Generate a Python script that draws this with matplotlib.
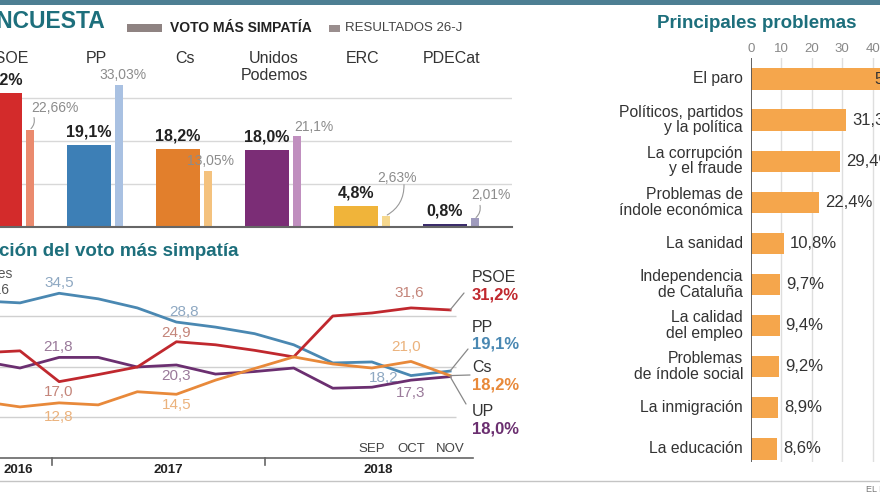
import matplotlib
matplotlib.use("Agg")
import matplotlib.pyplot as plt
from matplotlib.patches import Rectangle
from matplotlib import transforms

plt.rcParams['font.family'] = ['Liberation Sans', 'DejaVu Sans']

# ---------------- data ----------------
parties = ["PSOE", "PP", "Cs", "Unidos\nPodemos", "ERC", "PDECat"]
voto_simpatia = [31.2, 19.1, 18.2, 18.0, 4.8, 0.8]
resultados_26j = [22.66, 33.03, 13.05, 21.1, 2.63, 2.01]

series_names = ["PSOE", "PP", "Cs", "UP"]
psoe = [22.7, 23.1, 17.0, 18.4, 19.9, 24.9, 24.3, 23.2, 21.9, 30.0, 30.6, 31.6, 31.2]
pp = [33.0, 32.6, 34.5, 33.4, 31.6, 28.8, 27.8, 26.5, 24.3, 20.7, 20.9, 18.2, 19.1]
cs = [13.1, 12.0, 12.8, 12.4, 15.0, 14.5, 17.3, 19.6, 21.9, 20.5, 19.7, 21.0, 18.2]
up = [21.1, 19.7, 21.8, 21.8, 19.9, 20.3, 18.5, 19.0, 19.7, 15.7, 15.9, 17.3, 18.0]
month_labels = ["SEP", "OCT", "NOV"]
year_labels = ["2016", "2017", "2018"]

problems = ["El paro", "Políticos, partidos\ny la política", "La corrupción\ny el fraude",
            "Problemas de\níndole económica", "La sanidad", "Independencia\nde Cataluña",
            "La calidad\ndel empleo", "Problemas\nde índole social", "La inmigración",
            "La educación"]
problem_values = [57.6, 31.3, 29.4, 22.4, 10.8, 9.7, 9.4, 9.2, 8.9, 8.6]
problem_ticks = [0, 10, 20, 30, 40, 50]

# ---------------- style ----------------
TEAL = '#1d6f7c'
main_colors = ['#d32b2b', '#3d7fb6', '#e27f2c', '#7b2d76', '#f0b43a', '#3b2c6b']
light_colors = ['#ea8a6e', '#a9c1e2', '#f4c27e', '#c08fbf', '#f6d88e', '#9f9bbd']
line_colors = {'PSOE': '#c0282e', 'PP': '#4a88b2', 'Cs': '#e8893a', 'UP': '#6b2f70'}
note_colors = {'PSOE': '#c4857a', 'PP': '#8ea8c2', 'Cs': '#ebb27c', 'UP': '#9a7a9a'}

W, H = 880, 495
fig = plt.figure(figsize=(W / 100, H / 100), dpi=100)
fig.patch.set_facecolor('white')


def px_axes(x0, y0, x1, y1):
    ax = fig.add_axes([x0 / W, 1 - y1 / H, (x1 - x0) / W, (y1 - y0) / H])
    ax.patch.set_visible(False)
    for s in ax.spines.values():
        s.set_visible(False)
    ax.set_xticks([])
    ax.set_yticks([])
    return ax


# overlay in pixel coordinates
ov = fig.add_axes([0, 0, 1, 1])
ov.set_xlim(0, W)
ov.set_ylim(H, 0)
ov.axis('off')
ov.patch.set_visible(False)
ov.set_zorder(10)

PT = 0.72  # points per pixel

# top stripe + header
ov.add_patch(Rectangle((0, 0), W, 5, color='#4d7f93', lw=0))
ov.text(105, 22, "ENCUESTA", ha='right', va='center', fontsize=16.5, fontweight='bold', color=TEAL)
ov.add_patch(Rectangle((127, 24), 35, 7.5, color='#8f8382', lw=0))
ov.text(170, 28, "VOTO MÁS SIMPATÍA", ha='left', va='center', fontsize=10, fontweight='bold', color='#222')
ov.add_patch(Rectangle((329, 25), 11, 6.5, color='#9a8e8e', lw=0))
ov.text(345, 28, "RESULTADOS 26-J", ha='left', va='center', fontsize=9.5, color='#444')

# ---------------- bar chart ----------------
GP = 89.0
PXU = 4.3
ax_b = px_axes(-45, 60, 512, 227)
ax_b.set_xlim(-45 / GP, 512 / GP)
ax_b.set_ylim(0, 167 / PXU)
for g in (10, 20, 30):
    ax_b.axhline(g, color='#d8d8d8', lw=1, zorder=0)
ax_b.axhline(0, color='#666', lw=1.5, zorder=3, clip_on=False)

xs = list(range(len(parties)))
main_w = 44 / GP
light_w = 8 / GP
light_off = 30 / GP
ax_b.bar(xs, voto_simpatia, width=main_w, color=main_colors, zorder=2)
lx = [x + light_off for x in xs]
ax_b.bar(lx, resultados_26j, width=light_w, color=light_colors, zorder=2)

btr = transforms.blended_transform_factory(ax_b.transData, ov.transData)
for i, name in enumerate(parties):
    ax_b.text(i + 7 / GP, 51, name, transform=btr, ha='center', va='top',
              fontsize=11.5, color='#333', linespacing=1.2)
    ax_b.annotate(f"{voto_simpatia[i]:.1f}".replace('.', ',') + '%',
                  xy=(i, voto_simpatia[i]), xytext=(0, 4), textcoords='offset points',
                  ha='center', va='bottom', fontsize=11.5, fontweight='bold', color='#222')

light_label_off = [(25, -22), (4, -10), (3, -10), (17, -9), (11, -38), (16, -23)]
leader_end = [(4, -12), None, None, None, (18, -31), (5, -13)]
for i, v in enumerate(resultados_26j):
    s = f"{v:.2f}".rstrip('0').replace('.', ',') + '%'
    dx, dy = light_label_off[i]
    ax_b.annotate(s, xy=(lx[i], v), xytext=(dx * PT, -dy * PT), textcoords='offset points',
                  ha='center', va='center', fontsize=10, color='#8c8c8c', zorder=5)
    if leader_end[i] is not None:
        ex, ey = leader_end[i]
        ax_b.annotate('', xy=(lx[i], v), xytext=(ex * PT, -ey * PT), textcoords='offset points',
                      arrowprops=dict(arrowstyle='-', color='#999', lw=0.8,
                                      shrinkA=0, shrinkB=1,
                                      connectionstyle='arc3,rad=-0.3'))

# ---------------- line chart ----------------
STEP = 39.1
X1 = 20.0
YS = 5.05


def xd(px):
    return 1 + (px - X1) / STEP


def yd(py):
    return 30 - (py - 316) / YS


ax_l = px_axes(-60, 262, 473, 458)
ax_l.set_xlim(xd(-60), xd(473))
ax_l.set_ylim(yd(458), yd(262))
ax_l.hlines([10, 20, 30], xd(-60), xd(456), color='#d0d0d0', lw=1, zorder=0)

ov.text(238, 252, "Evolución del voto más simpatía", ha='right', va='center',
        fontsize=13.5, fontweight='bold', color=TEAL)
ov.text(13, 274, "Elecciones", ha='right', va='center', fontsize=10, color='#555')
ov.text(9, 290, "2016", ha='right', va='center', fontsize=10, color='#555')

series = {'PSOE': psoe, 'PP': pp, 'Cs': cs, 'UP': up}
idx = list(range(len(pp)))
for name in ['PP', 'UP', 'PSOE', 'Cs']:
    ax_l.plot(idx, series[name], color=line_colors[name], lw=2.0, zorder=3,
              solid_joinstyle='round')

note_idx = [2, 5, 11]
note_off = {
    'PP': [(0, -10), (8, -10), (-27, 2)],
    'PSOE': [(0, 10), (0, -9), (-2, -15)],
    'UP': [(-1, -10), (0, 11), (0, 13)],
    'Cs': [(0, 14), (0, 11), (-5, -14)],
}
for name, vals in series.items():
    for k, i in enumerate(note_idx):
        dx, dy = note_off[name][k]
        ax_l.annotate(f"{vals[i]:.1f}".replace('.', ','), xy=(i, vals[i]),
                      xytext=(dx * PT, -dy * PT), textcoords='offset points',
                      ha='center', va='center', fontsize=11, color=note_colors[name], zorder=2)

# end labels
end_pos = {'PSOE': (464, 293, 278), 'PP': (468, 349, 327), 'Cs': (470, 375, 368), 'UP': (466, 404, 412)}
last = len(pp) - 1
for name in series_names:
    x2, y2, ty = end_pos[name]
    v = series[name][last]
    ax_l.annotate('', xy=(last, v), xytext=(x2, y2), textcoords=ov.transData,
                  arrowprops=dict(arrowstyle='-', color='#888', lw=0.9, shrinkA=0, shrinkB=0))
    ov.text(472, ty, name, ha='left', va='center', fontsize=11.5, color='#333')
    ov.text(472, ty + 17, f"{v:.1f}".replace('.', ',') + '%', ha='left', va='center',
            fontsize=12, fontweight='bold', color=line_colors[name])

# x axis
ltr = transforms.blended_transform_factory(ax_l.transData, ov.transData)
ov.plot([0, 473], [458, 458], color='#666', lw=1.2)
for tx in (52, 265):
    ov.plot([tx, tx], [458, 465], color='#666', lw=1.2)
for k, lab in enumerate(month_labels):
    ax_l.text(last - 2 + k, 449, lab, transform=ltr, ha='center', va='center',
              fontsize=9.5, color='#444')
for xpx, lab in zip((18, 168, 378), year_labels):
    ov.text(xpx, 470, lab, ha='center', va='center', fontsize=9.5, fontweight='bold', color='#222')

# bottom
ov.plot([0, W], [481, 481], color='#c4c4c4', lw=1)
ov.text(866, 489, "EL PAÍS", ha='left', va='center', fontsize=6.5, color='#777')

# ---------------- problems chart ----------------
PS = 3.04
RS = 41.1
ax_p = px_axes(751, 58, 960, 462)
ax_p.set_xlim(0, (960 - 751) / PS)
ax_p.set_ylim((462 - 79) / RS, (58 - 79) / RS)
for t in problem_ticks[1:]:
    ax_p.axvline(t, color='#dedede', lw=1, zorder=0)
ax_p.axvline(0, color='#555', lw=1.3, zorder=3)
rows = list(range(len(problems)))
ax_p.barh(rows, problem_values, height=0.52, color='#f5a64c', zorder=2)

ov.text(757, 23, "Principales problemas", ha='center', va='center', fontsize=13.5,
        fontweight='bold', color=TEAL)
ptr_top = transforms.blended_transform_factory(ax_p.transData, ov.transData)
for t in problem_ticks:
    ax_p.text(t, 49, str(t), transform=ptr_top, ha='center', va='center', fontsize=9.5, color='#888')

ptr_lab = transforms.blended_transform_factory(ov.transData, ax_p.transData)
for r, (lab, v) in enumerate(zip(problems, problem_values)):
    ax_p.text(743, r, lab, transform=ptr_lab, ha='right', va='center', fontsize=11.3,
              color='#333', linespacing=1.05)
    s = f"{v:.1f}".replace('.', ',') + '%'
    if v > 45:
        ax_p.annotate(s, xy=(v, r), xytext=(-5 * PT, 0), textcoords='offset points',
                      ha='right', va='center', fontsize=12, color='#333')
    else:
        ax_p.annotate(s, xy=(v, r), xytext=(6 * PT, 0), textcoords='offset points',
                      ha='left', va='center', fontsize=12, color='#333')

fig.savefig("out.png", dpi=100, facecolor='white')
